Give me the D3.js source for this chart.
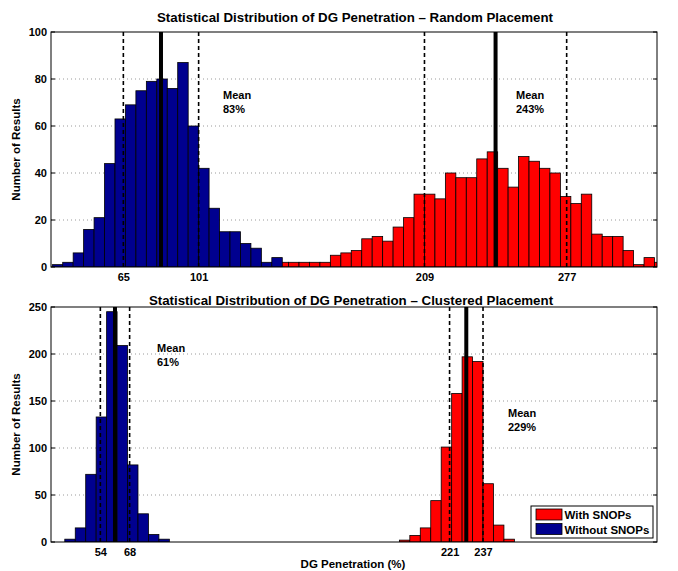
<!DOCTYPE html>
<html>
<head>
<meta charset="utf-8">
<script src="https://cdn.jsdelivr.net/npm/d3@7"></script>
<style>
  html, body { margin: 0; padding: 0; background: #fff; }
  svg text { font-family: "Liberation Sans", Arial, Helvetica, sans-serif; font-weight: bold; fill: #000; }
</style>
</head>
<body>
<svg id="chart" width="678" height="571"></svg>
<script>
// ---------- data ----------
const binWidth = 5;
// Top: random placement
const topBlueStart = 31;
const topBlueCounts = [1,2,6,16,21,44,63,69,75,79,80,76,87,60,42,25,15,15,10,8,2,4];
const topRedStart = 139;
const topRedCounts = [2,2,2,2,2,5,6,7,12,13,11,17,21,31,31,29,40,38,38,46,49,42,34,47,45,42,40,30,27,31,14,13,13,7,1,4,2];
const topBlueStats = {low: 65, mean: 83, high: 101};
const topRedStats = {low: 209, mean: 243, high: 277};
const topXTicks = [65, 101, 209, 277];
const topYTicks = [0, 20, 40, 60, 80, 100];
// Bottom: clustered placement
const botBlueStart = 37;
const botBlueCounts = [3,15,72,133,245,209,82,30,8,3];
const botRedStart = 197;
const botRedCounts = [2,7,15,44,101,158,197,192,62,18,3];
const botBlueStats = {low: 54, mean: 61, high: 68};
const botRedStats = {low: 221, mean: 229, high: 237};
const botXTicks = [54, 68, 221, 237];
const botYTicks = [0, 50, 100, 150, 200, 250];
const legendLabels = ["With SNOPs", "Without SNOPs"];
const titles = ["Statistical Distribution of DG Penetration \u2013 Random Placement",
                "Statistical Distribution of DG Penetration \u2013 Clustered Placement"];
const xLabel = "DG Penetration (%)";
const yLabel = "Number of Results";

// ---------- drawing ----------
const svg = d3.select("#chart");
const blue = "#00008f", red = "#ff0000";
const x = d3.scaleLinear().domain([30.4, 320.2]).range([51, 657]);

function panel(id, top, bottom, yMax, yTicks, xTicks, blueStart, blueCounts, redStart, redCounts, bs, rs, title, titleX, titleY, meanLabels) {
  const y = d3.scaleLinear().domain([0, yMax]).range([bottom, top]);
  const g = svg.append("g");
  const clipId = "clip" + id;
  svg.append("clipPath").attr("id", clipId).append("rect")
    .attr("x", x.range()[0]).attr("y", top).attr("width", x.range()[1] - x.range()[0]).attr("height", bottom - top);

  // grid
  g.append("g").selectAll("line").data(yTicks.slice(1, -1)).join("line")
    .attr("x1", x.range()[0]).attr("x2", x.range()[1])
    .attr("y1", d => y(d)).attr("y2", d => y(d))
    .attr("stroke", "#9a9a9a").attr("stroke-width", 1).attr("stroke-dasharray", "1,3");

  const bars = g.append("g").attr("clip-path", `url(#${clipId})`);
  function hist(start, counts, color) {
    const data = counts.map((c, i) => ({x0: start + i * binWidth, c}));
    bars.append("g").selectAll("rect").data(data.filter(d => d.c > 0)).join("rect")
      .attr("x", d => x(d.x0)).attr("width", d => x(d.x0 + binWidth) - x(d.x0))
      .attr("y", d => y(d.c)).attr("height", d => y(0) - y(d.c))
      .attr("fill", color).attr("stroke", "#000").attr("stroke-width", 0.8);
  }
  hist(redStart, redCounts, red);
  hist(blueStart, blueCounts, blue);

  // stats lines
  [bs, rs].forEach(s => {
    [s.low, s.high].forEach(v => {
      g.append("line").attr("x1", x(v)).attr("x2", x(v)).attr("y1", top).attr("y2", bottom)
        .attr("stroke", "#000").attr("stroke-width", 1.6).attr("stroke-dasharray", "4,3");
    });
    g.append("line").attr("x1", x(s.mean)).attr("x2", x(s.mean)).attr("y1", top).attr("y2", bottom)
      .attr("stroke", "#000").attr("stroke-width", 4);
  });

  // frame
  g.append("rect").attr("x", x.range()[0]).attr("y", top)
    .attr("width", x.range()[1] - x.range()[0]).attr("height", bottom - top)
    .attr("fill", "none").attr("stroke", "#000").attr("stroke-width", 1);

  // axes
  const yAxis = g.append("g").attr("transform", `translate(${x.range()[0]},0)`)
    .call(d3.axisLeft(y).tickValues(yTicks).tickSize(0).tickPadding(4));
  yAxis.select(".domain").remove();
  yAxis.selectAll("text").style("font-size", "11px").style("font-family", '"Liberation Sans", Arial, sans-serif').style("font-weight", "bold");
  // inward ticks both sides
  g.append("g").selectAll("line").data(yTicks).join("line")
    .attr("x1", x.range()[0]).attr("x2", x.range()[0] + 4).attr("y1", d => y(d)).attr("y2", d => y(d)).attr("stroke", "#000");
  g.append("g").selectAll("line").data(yTicks).join("line")
    .attr("x1", x.range()[1]).attr("x2", x.range()[1] - 4).attr("y1", d => y(d)).attr("y2", d => y(d)).attr("stroke", "#000");

  const xAxis = g.append("g").attr("transform", `translate(0,${bottom})`)
    .call(d3.axisBottom(x).tickValues(xTicks).tickSize(0).tickPadding(6).tickFormat(d3.format("d")));
  xAxis.select(".domain").remove();
  xAxis.selectAll("text").style("font-size", "11px").style("font-family", '"Liberation Sans", Arial, sans-serif').style("font-weight", "bold");

  // title
  svg.append("text").attr("x", titleX).attr("y", titleY).attr("text-anchor", "middle")
    .style("font-size", "13.3px").text(title);

  // y label
  svg.append("text").attr("transform", `translate(20,${(top + bottom) / 2}) rotate(-90)`)
    .attr("text-anchor", "middle").style("font-size", "11.5px").text(yLabel);

  // mean labels
  meanLabels.forEach(m => {
    const t = svg.append("text").attr("x", m.x).attr("y", m.y).style("font-size", "11px");
    t.append("tspan").attr("x", m.x).attr("dy", 0).text("Mean");
    t.append("tspan").attr("x", m.x).attr("dy", 14).text(m.v + "%");
  });
  return y;
}

panel("A", 32, 267, 100, topYTicks, topXTicks, topBlueStart, topBlueCounts, topRedStart, topRedCounts,
  topBlueStats, topRedStats, titles[0], 355, 22,
  [{x: 223, y: 99, v: topBlueStats.mean}, {x: 516, y: 99, v: topRedStats.mean}]);
panel("B", 307, 542, 250, botYTicks, botXTicks, botBlueStart, botBlueCounts, botRedStart, botRedCounts,
  botBlueStats, botRedStats, titles[1], 351, 305,
  [{x: 157, y: 352, v: botBlueStats.mean}, {x: 508, y: 417, v: botRedStats.mean}]);

// x label
svg.append("text").attr("x", 353).attr("y", 568).attr("text-anchor", "middle")
  .style("font-size", "11.5px").text(xLabel);

// legend
const lg = svg.append("g");
lg.append("rect").attr("x", 531).attr("y", 506).attr("width", 122).attr("height", 32)
  .attr("fill", "#fff").attr("stroke", "#000").attr("stroke-width", 1);
[red, blue].forEach((c, i) => {
  lg.append("rect").attr("x", 536).attr("y", 509 + i * 14.5).attr("width", 26).attr("height", 11)
    .attr("fill", c).attr("stroke", "#000").attr("stroke-width", 0.8);
  lg.append("text").attr("x", 564.5).attr("y", 519 + i * 14.5).style("font-size", "11.5px").text(legendLabels[i]);
});
</script>
</body>
</html>
